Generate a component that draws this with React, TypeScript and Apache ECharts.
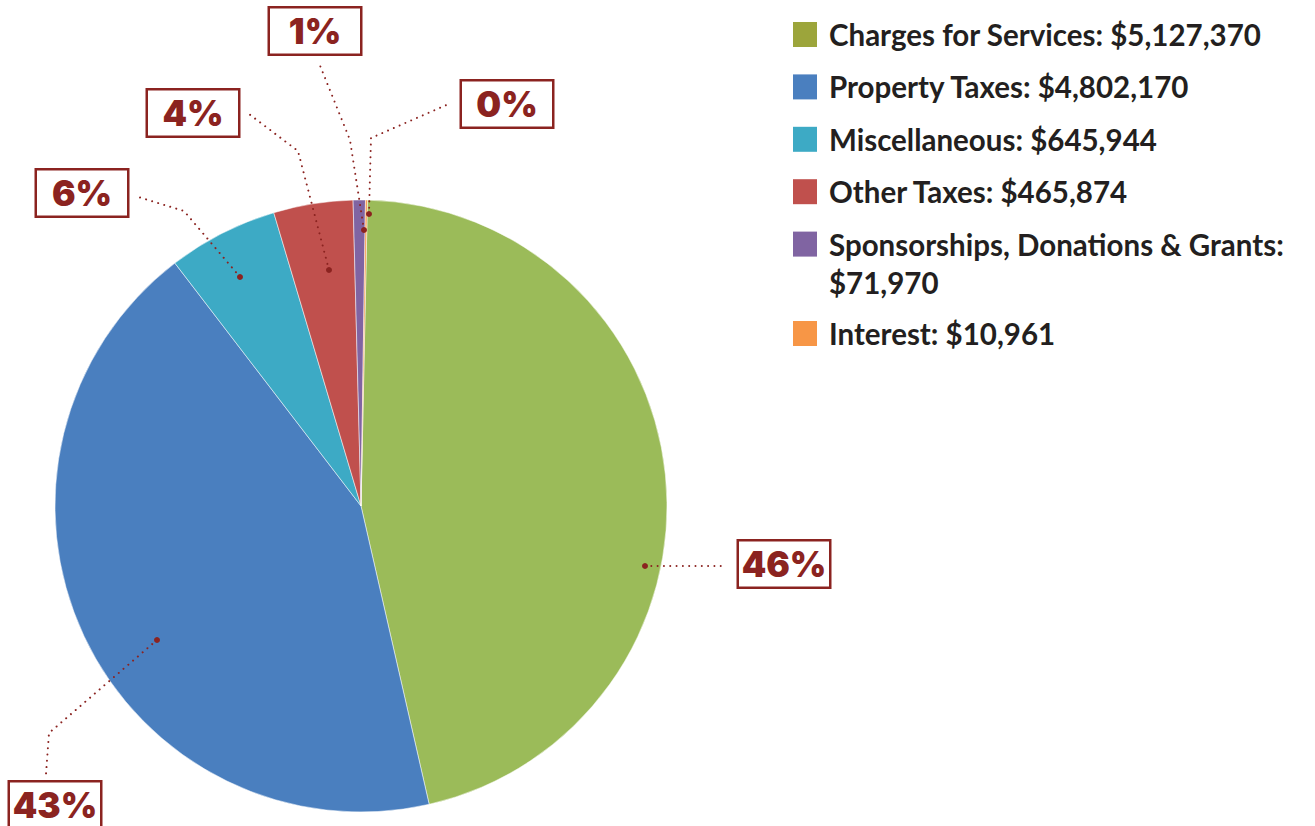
import React, { useEffect, useRef } from 'react';
import * as echarts from 'echarts';

const categories = [
  'Charges for Services',
  'Property Taxes',
  'Miscellaneous',
  'Other Taxes',
  'Sponsorships, Donations & Grants',
  'Interest',
];
const values = [5127370, 4802170, 645944, 465874, 71970, 10961];
const sliceColors = ['#9BBB59', '#4A7FBF', '#3DAAC5', '#C0504D', '#8064A2', '#F79646'];
const legendColors = ['#9CA53B', '#4A7FBF', '#3DAAC5', '#C0504D', '#8064A2', '#F79646'];
const legendBreaks = [false, false, false, false, true, false];

// label box centres and guide-line points (layout only)
const labelBoxes = [[784, 564], [55, 805], [82, 193], [193, 113], [315, 31], [507, 104]];
const labelGuides = [
  [[645, 566], [690, 566], [727, 566]],
  [[157, 640], [49, 733], [46, 774]],
  [[240, 277], [184, 211], [135, 196]],
  [[329, 270], [298, 151], [249, 114]],
  [[364, 230], [350, 140], [319, 63]],
  [[369, 214], [371, 138], [451, 103]],
];

const RED = '#8B2320';

export default function App() {
  const ref = useRef<HTMLDivElement>(null);
  useEffect(() => {
    if (!ref.current) return;
    const chart = echarts.init(ref.current, null, { renderer: 'svg' });

    const legendGraphics: any[] = [];
    let top = 22;
    categories.forEach((name, i) => {
      const txt = `${name}:${legendBreaks[i] ? '\n' : ' '}$${values[i].toLocaleString('en-US')}`;
      legendGraphics.push({
        type: 'rect',
        shape: { x: 793, y: top, width: 24, height: 25 },
        style: { fill: legendColors[i] },
      });
      legendGraphics.push({
        type: 'text',
        x: 829,
        y: top + 12.5 - 19,
        style: {
          text: txt,
          fill: '#231F20',
          font: 'bold 29.5px Lato',
          lineHeight: 38,
          verticalAlign: 'top',
        },
      });
      top += 52.4 + (legendBreaks[i] ? 37 : 0);
    });

    const guides: any[] = [];
    labelGuides.forEach((g) => {
      guides.push({
        type: 'polyline',
        z: 100,
        shape: { points: g },
        style: { stroke: RED, lineWidth: 2, lineDash: [0.01, 6.3], lineCap: 'round', fill: null },
      });
      guides.push({
        type: 'circle',
        z: 101,
        shape: { cx: g[0][0], cy: g[0][1], r: 3 },
        style: { fill: RED },
      });
    });

    chart.setOption({
      animation: false,
      graphic: [...legendGraphics, ...guides],
      series: [
        {
          type: 'pie',
          center: [361, 506],
          radius: [0, 306],
          startAngle: 88.8,
          clockwise: true,
          percentPrecision: 0,
          itemStyle: { borderColor: '#fff', borderWidth: 0.5 },
          data: categories.map((name, i) => ({
            name,
            value: values[i],
            itemStyle: { color: sliceColors[i] },
          })),
          label: {
            show: true,
            position: 'outside',
            formatter: '{d}%',
            color: RED,
            fontFamily: 'Inter',
            fontWeight: 900,
            fontSize: 35,
            backgroundColor: '#fff',
            borderColor: RED,
            borderWidth: 2.5,
            width: 90,
            height: 45,
            lineHeight: 45,
            align: 'center',
            verticalAlign: 'middle',
            padding: 0,
          },
          labelLine: { show: false },
          labelLayout: (p: any) => {
            const i = p.dataIndex;
            return {
              x: labelBoxes[i][0],
              y: labelBoxes[i][1],
              align: 'center',
              verticalAlign: 'middle',
            };
          },
          emphasis: { disabled: true },
        },
      ],
    });
    return () => chart.dispose();
  }, []);
  return (
    <div
      ref={ref}
      style={{ position: 'fixed', left: 0, top: 0, width: 1315, height: 826, background: '#fff' }}
    />
  );
}
